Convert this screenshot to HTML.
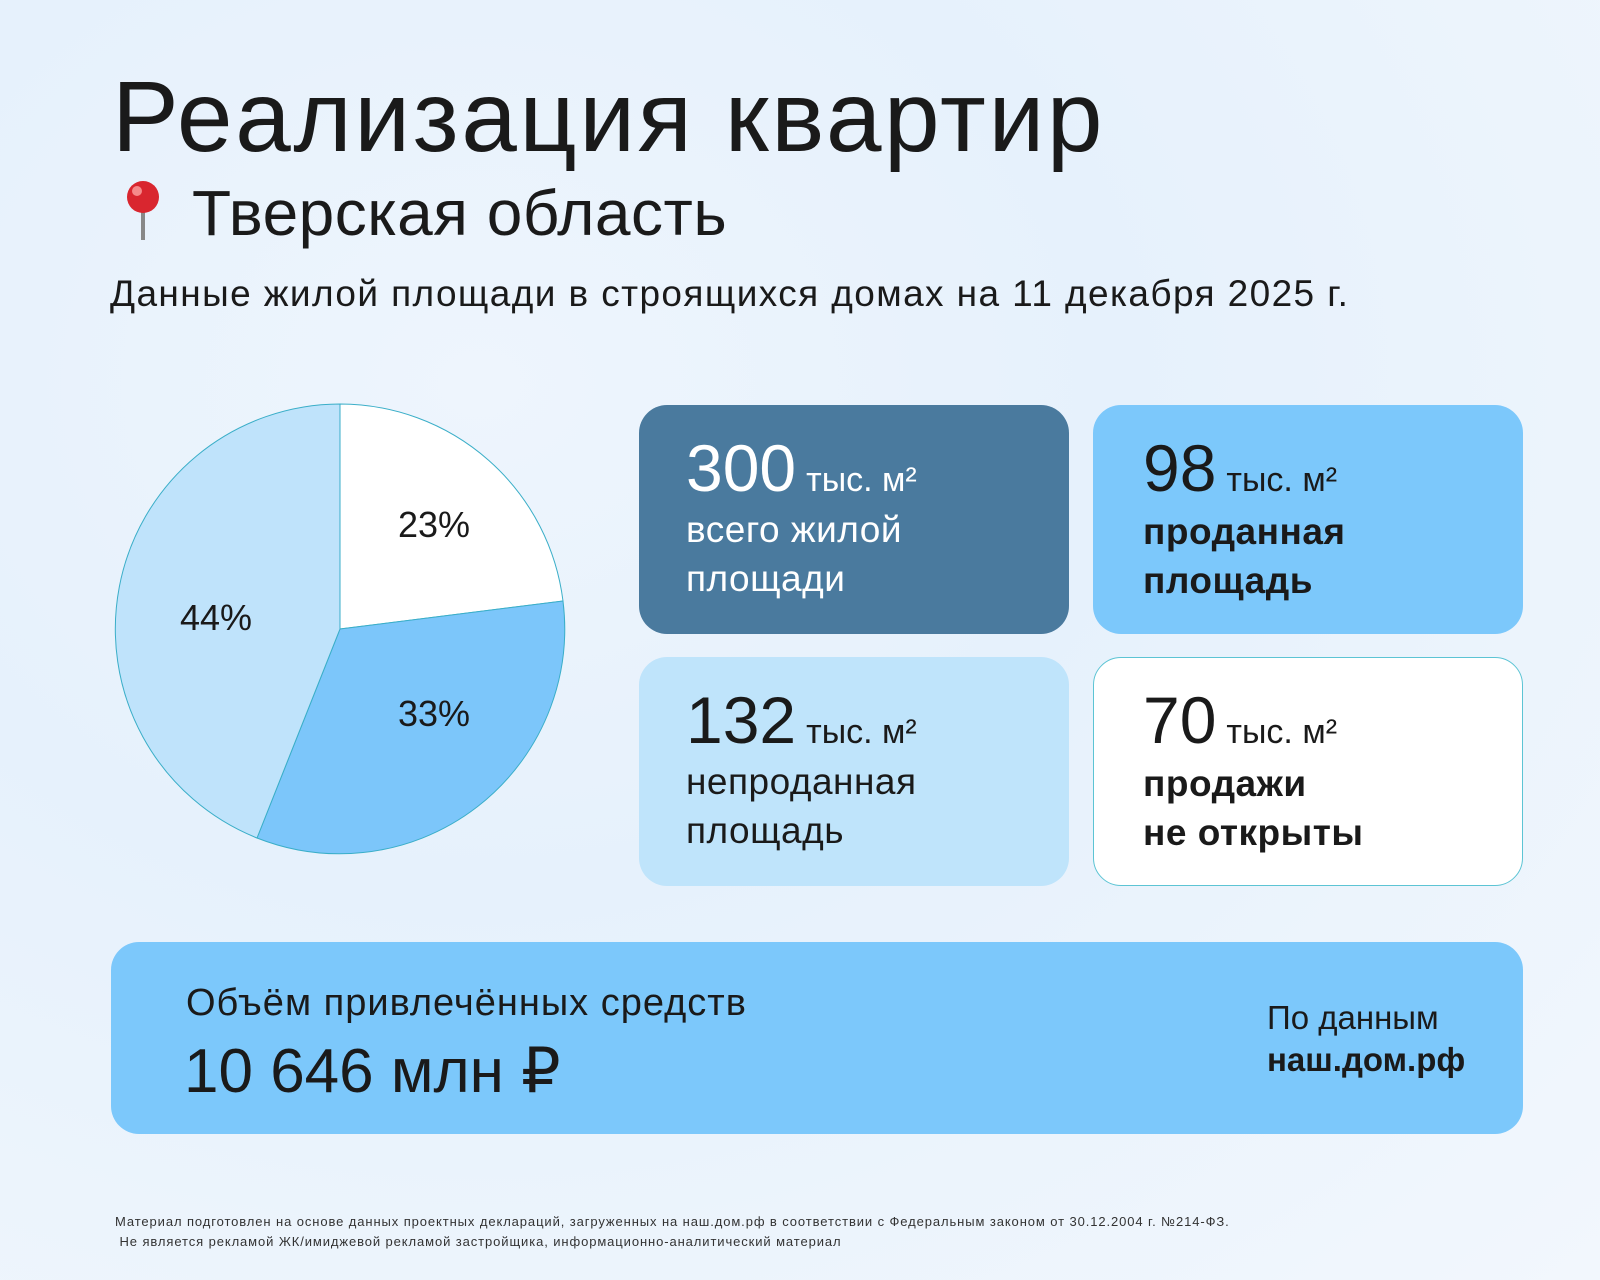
<!DOCTYPE html>
<html><head><meta charset="utf-8"><style>
*{margin:0;padding:0;box-sizing:border-box}
body{width:1600px;height:1280px;overflow:hidden;font-family:"Liberation Sans","DejaVu Sans",sans-serif;color:#1a1a1a;
background:radial-gradient(ellipse at 30% 30%,#eef5fd 0%,#e6f1fc 40%,#f2f7fd 100%);position:relative}
.a{position:absolute;white-space:nowrap}
.card{position:absolute;border-radius:28px}
.big{font-size:66px;line-height:1}
.unit{font-size:34px;margin-left:10px}
.lab{font-size:37px;line-height:49px;letter-spacing:0.5px}
</style></head><body>
<div class="a" style="left:112px;top:60px;font-size:100px;letter-spacing:2.6px">Реализация квартир</div>
<svg class="a" style="left:122px;top:180px" width="42" height="64" viewBox="0 0 42 64">
<line x1="21" y1="28" x2="21" y2="60" stroke="#888" stroke-width="4"/>
<circle cx="21" cy="17" r="16" fill="#d9262f"/><circle cx="15" cy="11" r="5" fill="#f58a8a"/></svg>
<div class="a" style="left:192px;top:176px;font-size:64px;letter-spacing:0.5px">Тверская область</div>
<div class="a" style="left:110px;top:273px;font-size:37px;letter-spacing:1.4px">Данные жилой площади в строящихся домах на 11 декабря 2025 г.</div>

<svg class="a" style="left:0;top:0" width="600" height="900">
<path d="M340,629 L340,404 A225,225 0 0 1 563,601 Z" fill="#fff" stroke="#3aaec8" stroke-width="1"/>
<path d="M340,629 L563,601 A225,225 0 0 1 257,838 Z" fill="#7cc6fa" stroke="#3aaec8" stroke-width="1"/>
<path d="M340,629 L257,838 A225,225 0 0 1 340,404 Z" fill="#bfe3fb" stroke="#3aaec8" stroke-width="1"/>
<text x="434" y="537" font-size="36" text-anchor="middle" fill="#1a1a1a">23%</text>
<text x="434" y="726" font-size="36" text-anchor="middle" fill="#1a1a1a">33%</text>
<text x="216" y="630" font-size="36" text-anchor="middle" fill="#1a1a1a">44%</text>
</svg>

<div class="card" style="left:639px;top:405px;width:430px;height:229px;background:#4a7a9e;color:#fff">
<div class="a" style="left:47px;top:30px"><span class="big">300</span><span class="unit">тыс. м²</span></div>
<div class="a lab" style="left:47px;top:100px">всего жилой<br>площади</div></div>
<div class="card" style="left:1093px;top:405px;width:430px;height:229px;background:#7cc8fb">
<div class="a" style="left:50px;top:30px"><span class="big">98</span><span class="unit">тыс. м²</span></div>
<div class="a lab" style="left:50px;top:102px;font-weight:bold">проданная<br>площадь</div></div>
<div class="card" style="left:639px;top:657px;width:430px;height:229px;background:#bfe4fb">
<div class="a" style="left:47px;top:30px"><span class="big">132</span><span class="unit">тыс. м²</span></div>
<div class="a lab" style="left:47px;top:100px">непроданная<br>площадь</div></div>
<div class="card" style="left:1093px;top:657px;width:430px;height:229px;background:#fff;border:1.5px solid #5cc4d4">
<div class="a" style="left:49px;top:29px"><span class="big">70</span><span class="unit">тыс. м²</span></div>
<div class="a lab" style="left:49px;top:101px;font-weight:bold">продажи<br>не открыты</div></div>

<div class="card" style="left:111px;top:942px;width:1412px;height:192px;background:#7cc8fb">
<div class="a" style="left:75px;top:40px;font-size:38px;letter-spacing:1px">Объём привлечённых средств</div>
<div class="a" style="left:73px;top:92px;font-size:62px">10 646 млн ₽</div>
<div class="a" style="left:1156px;top:55px;font-size:33px;line-height:42px">По данным<br><b>наш.дом.рф</b></div>
</div>

<div class="a" style="left:115px;top:1212px;font-size:13px;line-height:20px;color:#333;letter-spacing:0.9px">Материал подготовлен на основе данных проектных деклараций, загруженных на наш.дом.рф в соответствии с Федеральным законом от 30.12.2004 г. №214-ФЗ.<br>&nbsp;Не является рекламой ЖК/имиджевой рекламой застройщика, информационно-аналитический материал</div>
</body></html>
